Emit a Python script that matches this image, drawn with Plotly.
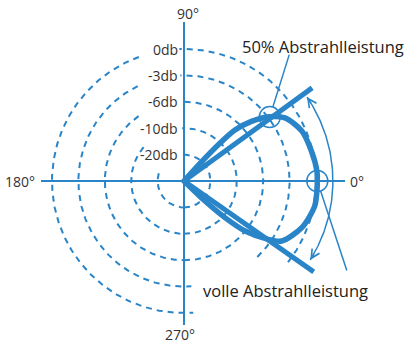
import numpy as np
import plotly.graph_objects as go

# ---------------- data ----------------
ring_labels = ["0db", "-3db", "-6db", "-10db", "-20db"]
ring_radius = [5, 4, 3, 2, 1]                 # ring index units
angle_labels = ["0°", "90°", "180°", "270°"]

# radiation lobe (polar: angle in degrees, radius in ring units)
lobe_upper_theta = [48, 47.5, 46.5, 45, 41.5, 37, 32, 23, 13, 4, 0]
lobe_upper_r = [0, 0.98, 1.93, 2.73, 3.41, 4.05, 4.51, 4.85, 4.96, 5.05, 5.05]
lobe_lower_theta = [-4, -11, -21.6, -31.6, -34.7, -39.3, -41.8, -43.6, -45]
lobe_lower_r = [5.05, 5.04, 4.8, 4.34, 3.88, 2.99, 2.08, 1.10, 0]

beam_theta = [36, -35]          # beam edge directions
beam_length = 6.0
marker_theta = [36.7, 0]        # 50% point, full power point
marker_r = [4.05, 5.05]
arc_theta = [-32, 34.3]         # opening-angle arc
arc_r = 5.64

# ---------------- style / geometry ----------------
BLUE = "#2a85c8"
TXT = "#333333"
FONT = "Open Sans"
W, H = 405, 344
CX, CY = 184, 181               # centre in pixels
S = 26.4                        # pixels per ring unit

# angular segments in which each ring is drawn (gaps for labels / text)
ring_segments = {
    5: [(-38, 92), (110, 274)],
    4: [(-46, 92), (116, 274)],
    3: [(-90, 92), (125, 270)],
    2: [(-90, 92), (140, 270)],
    1: [(-90, 92), (163, 270)],
}


def pol(theta_deg, r):
    t = np.radians(np.asarray(theta_deg, dtype=float))
    r = np.asarray(r, dtype=float)
    return r * np.cos(t), r * np.sin(t)


def px(x):
    return x / W


def py(y):
    return 1 - y / H


fig = go.Figure()

# dashed rings
for rr in ring_radius:
    for a0, a1 in ring_segments[rr]:
        th = np.linspace(a0, a1, 200)
        x, y = pol(th, np.full_like(th, rr))
        fig.add_trace(go.Scatter(x=x, y=y, mode="lines",
                                 line=dict(color=BLUE, width=2, dash="6px,5px"),
                                 hoverinfo="skip"))

# axes lines
ext = {0: 161 / S, 90: 159 / S, 180: 143 / S, 270: 144 / S}
for a, L in ext.items():
    x, y = pol([a, a], [0, L])
    fig.add_trace(go.Scatter(x=x, y=y, mode="lines",
                             line=dict(color=BLUE, width=2), hoverinfo="skip"))

# opening-angle arc
th = np.linspace(arc_theta[0], arc_theta[1], 120)
x, y = pol(th, np.full_like(th, arc_r))
fig.add_trace(go.Scatter(x=x, y=y, mode="lines",
                         line=dict(color=BLUE, width=1.5), hoverinfo="skip"))

# beam edge lines
for bt in beam_theta:
    x, y = pol([bt, bt], [0, beam_length])
    fig.add_trace(go.Scatter(x=x, y=y, mode="lines",
                             line=dict(color=BLUE, width=5), hoverinfo="skip"))

# lobe
lt = [lobe_upper_theta[0]] + lobe_upper_theta + lobe_lower_theta
lr = [0] + lobe_upper_r + lobe_lower_r
x, y = pol(lt, lr)
fig.add_trace(go.Scatter(x=x, y=y, mode="lines",
                         line=dict(color=BLUE, width=5.5, shape="spline", smoothing=0.8),
                         hoverinfo="skip"))

# highlight circles
x, y = pol(marker_theta, marker_r)
fig.add_trace(go.Scatter(x=x, y=y, mode="markers",
                         marker=dict(size=21, color="rgba(0,0,0,0)",
                                     line=dict(color=BLUE, width=1.5)),
                         hoverinfo="skip"))

annotations = []
# ring labels
for lab, rr in zip(ring_labels, ring_radius):
    annotations.append(dict(x=0, y=rr, xref="x", yref="y", text=lab, showarrow=False,
                            xanchor="right", yanchor="middle", xshift=-4,
                            font=dict(family=FONT, size=14, color=TXT)))

# angle labels (pixel positions)
ang_pos = {"0°": (348, 181, "left"), "90°": (188, 14, "center"),
           "180°": (37, 181, "right"), "270°": (180, 334, "center")}
for lab in angle_labels:
    X, Y, anc = ang_pos[lab]
    annotations.append(dict(x=px(X), y=py(Y), xref="paper", yref="paper",
                            text=lab, showarrow=False, xanchor=anc, yanchor="middle",
                            font=dict(family=FONT, size=14, color=TXT)))

# callout texts
annotations.append(dict(x=px(240), y=py(46), xref="paper", yref="paper",
                        text="50% Abstrahlleistung", showarrow=False,
                        xanchor="left", yanchor="middle",
                        font=dict(family=FONT, size=16.5, color="#222")))
annotations.append(dict(x=px(201), y=py(290), xref="paper", yref="paper",
                        text="volle Abstrahlleistung", showarrow=False,
                        xanchor="left", yanchor="middle",
                        font=dict(family=FONT, size=16.5, color="#222")))

# callout leader lines
mx, my = pol(marker_theta, marker_r)
annotations.append(dict(x=mx[0], y=my[0], xref="x", yref="y", text="",
                        showarrow=True, arrowhead=0, arrowwidth=1.5, arrowcolor=BLUE,
                        ax=20, ay=-64, standoff=10.5))
annotations.append(dict(x=mx[1], y=my[1], xref="x", yref="y", text="",
                        showarrow=True, arrowhead=0, arrowwidth=1.5, arrowcolor=BLUE,
                        ax=30, ay=91, standoff=10.5))

# arrowheads on the arc
for at, sgn in zip(arc_theta, [-1, 1]):
    tx, ty = pol([at], [arc_r])
    t = np.radians(at)
    dx, dy = -np.sin(t) * sgn, np.cos(t) * sgn
    L = 9
    annotations.append(dict(x=tx[0], y=ty[0], xref="x", yref="y", text="",
                            showarrow=True, arrowhead=5, arrowsize=1.3,
                            arrowwidth=1.3, arrowcolor=BLUE,
                            ax=-dx * L, ay=dy * L))

fig.update_layout(
    width=W, height=H,
    margin=dict(l=0, r=0, t=0, b=0),
    paper_bgcolor="white", plot_bgcolor="white",
    showlegend=False,
    hovermode=False,
    xaxis=dict(range=[-CX / S, (W - CX) / S], visible=False, fixedrange=True),
    yaxis=dict(range=[-(H - CY) / S, CY / S], visible=False, fixedrange=True),
    annotations=annotations,
)

fig.write_html("out.html",
               config={"displayModeBar": False, "staticPlot": True},
               post_script="document.body.style.margin='0';"
                           "document.body.style.overflow='hidden';")
